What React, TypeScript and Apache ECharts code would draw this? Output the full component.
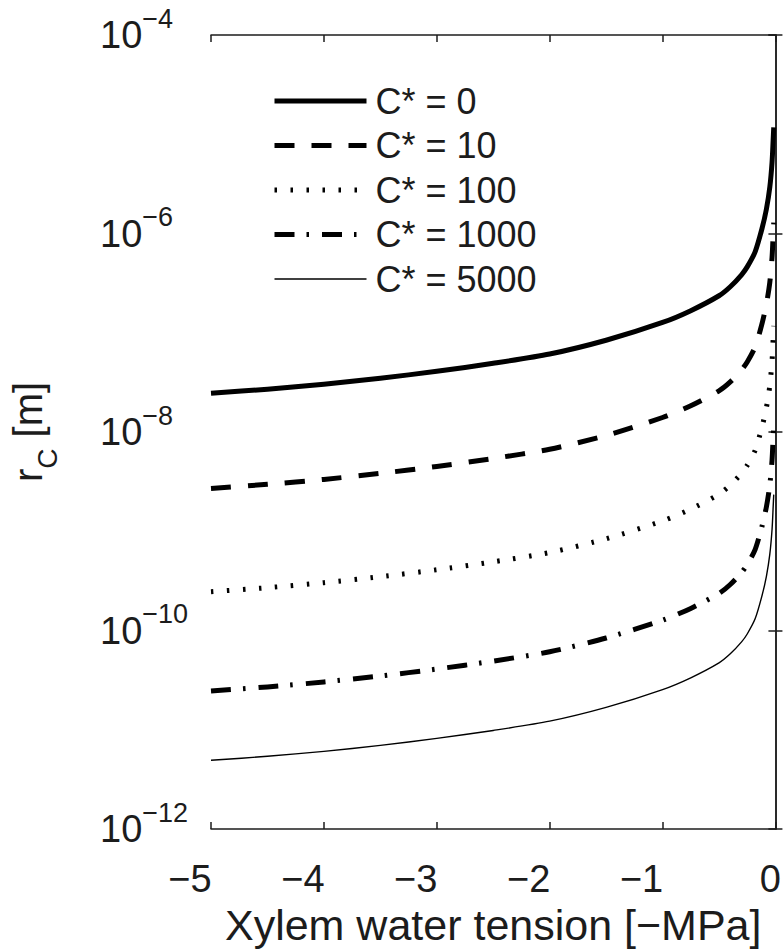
import React, { useEffect, useRef } from 'react';
import * as echarts from 'echarts';

// Xylem water tension [-MPa]
const X_TENSION = [-5, -4.5, -4, -3.5, -3, -2.5, -2, -1.5, -1, -0.75, -0.5, -0.4, -0.3, -0.25, -0.18, -0.12, -0.08, -0.05, -0.03, -0.02, -0.015];

// r_C [m] for each C*
const RC_C0 = [2.46e-8, 2.7e-8, 3.03e-8, 3.48e-8, 4.09e-8, 4.92e-8, 6.1e-8, 8.4e-8, 1.27e-7, 1.67e-7, 2.36e-7, 2.91e-7, 3.84e-7, 4.61e-7, 6.53e-7, 1.11e-6, 1.76e-6, 2.92e-6, 5.21e-6, 8.85e-6, 1.17e-5];
const RC_C10 = [2.7e-9, 2.97e-9, 3.33e-9, 3.83e-9, 4.5e-9, 5.41e-9, 6.71e-9, 9.2e-9, 1.4e-8, 1.84e-8, 2.6e-8, 3.2e-8, 4.22e-8, 5.07e-8, 7.18e-8, 1.22e-7, 1.94e-7, 3.21e-7, 5.73e-7, 9.74e-7, 1.29e-6];
const RC_C100 = [2.46e-10, 2.7e-10, 3.03e-10, 3.48e-10, 4.09e-10, 4.92e-10, 6.1e-10, 8.4e-10, 1.27e-9, 1.67e-9, 2.36e-9, 2.91e-9, 3.84e-9, 4.61e-9, 6.53e-9, 1.11e-8, 1.76e-8, 2.92e-8, 5.21e-8, 8.85e-8, 1.17e-7];
const RC_C1000 = [2.46e-11, 2.7e-11, 3.03e-11, 3.48e-11, 4.09e-11, 4.92e-11, 6.1e-11, 8.4e-11, 1.27e-10, 1.67e-10, 2.36e-10, 2.91e-10, 3.84e-10, 4.61e-10, 6.53e-10, 1.11e-9, 1.76e-9, 2.92e-9, 5.21e-9, 8.85e-9, 1.17e-8];
const RC_C5000 = [4.92e-12, 5.4e-12, 6.06e-12, 6.96e-12, 8.18e-12, 9.84e-12, 1.22e-11, 1.68e-11, 2.54e-11, 3.34e-11, 4.72e-11, 5.82e-11, 7.68e-11, 9.22e-11, 1.31e-10, 2.22e-10, 3.52e-10, 5.84e-10, 1.04e-9, 1.77e-9, 2.34e-9];

const SERIES_NAMES = ['C* = 0', 'C* = 10', 'C* = 100', 'C* = 1000', 'C* = 5000'];
const SERIES_VALUES = [RC_C0, RC_C10, RC_C100, RC_C1000, RC_C5000];

const X_NAME = 'Xylem water tension [\u2212MPa]';

const FONT = '"Liberation Sans", Arial, Helvetica, sans-serif';
const INK = '#1c1c1c';

const LINE_STYLES: any[] = [
  { width: 5, type: 'solid' },
  { width: 5, type: [20, 17] },
  { width: 5, type: [2.5, 13.5] },
  { width: 5, type: [20, 12, 2.5, 13] },
  { width: 1.4, type: 'solid' },
];

export default function App() {
  const ref = useRef<HTMLDivElement>(null);
  useEffect(() => {
    const chart = echarts.init(ref.current as HTMLDivElement, null, { renderer: 'svg' });
    const axisLine = { show: true, lineStyle: { color: INK, width: 1.5 } };
    const tick = { show: true, inside: true, length: 7, lineStyle: { color: INK, width: 1.5 } };
    const option: any = {
      animation: false,
      backgroundColor: '#fff',
      textStyle: { fontFamily: FONT },
      grid: { left: 211, right: 7, top: 35, bottom: 118, containLabel: false },
      legend: {
        orient: 'vertical',
        left: 272,
        top: 83,
        padding: 0,
        itemWidth: 92,
        itemHeight: 14,
        itemGap: 8.5,
        itemStyle: { opacity: 0 },
        lineStyle: { width: 'inherit', type: 'inherit', color: 'inherit' },
        textStyle: { fontSize: 36, color: INK, fontFamily: FONT, padding: [0, 0, 0, 4] },
        data: SERIES_NAMES,
        selectedMode: false,
      },
      xAxis: [
        {
          type: 'value',
          position: 'bottom',
          min: -5,
          max: 0,
          interval: 1,
          axisLine,
          axisTick: tick,
          splitLine: { show: false },
          axisLabel: {
            color: INK,
            fontSize: 38,
            fontFamily: FONT,
            margin: 31,
            formatter: (v: number) => (v === 0 ? '{z|0}' : '{n|\u2212' + Math.abs(v) + '}'),
            rich: {
              n: { fontSize: 38, fontFamily: FONT, color: INK, padding: [0, 42, 0, 0] },
              z: { fontSize: 38, fontFamily: FONT, color: INK, padding: [0, 10, 0, 0] },
            },
          },
          name: X_NAME,
          nameLocation: 'middle',
          nameGap: 74,
          nameTextStyle: { color: INK, fontSize: 43, fontFamily: FONT },
        },
        {
          type: 'value',
          position: 'top',
          min: -5,
          max: 0,
          interval: 1,
          axisLine,
          axisTick: tick,
          splitLine: { show: false },
          axisLabel: { show: false },
        },
      ],
      yAxis: [
        {
          type: 'log',
          logBase: 10,
          position: 'left',
          min: 1e-12,
          max: 1e-4,
          interval: 2,
          axisLine,
          axisTick: tick,
          minorTick: { show: false },
          splitLine: { show: false },
          axisLabel: {
            align: 'left',
            margin: 111,
            formatter: (v: number) => '{b|10}{s|\u2212' + Math.round(-Math.log10(v)) + '}',
            rich: {
              b: { fontSize: 38, fontFamily: FONT, color: INK, lineHeight: 60, verticalAlign: 'middle' },
              s: { fontSize: 27, fontFamily: FONT, color: INK, lineHeight: 18, verticalAlign: 'top' },
            },
          },
          name: '{r|r}{c|C}{r| [m]}',
          nameLocation: 'middle',
          nameGap: 150,
          nameRotate: 90,
          nameTextStyle: {
            rich: {
              r: { fontSize: 40, fontFamily: FONT, color: INK, lineHeight: 66, verticalAlign: 'middle' },
              c: { fontSize: 28, fontFamily: FONT, color: INK, lineHeight: 20, verticalAlign: 'bottom' },
            },
          },
        },
        {
          type: 'log',
          logBase: 10,
          position: 'right',
          min: 1e-12,
          max: 1e-4,
          interval: 2,
          axisLine,
          axisTick: tick,
          minorTick: { show: false },
          splitLine: { show: false },
          axisLabel: { show: false },
        },
      ],
      series: SERIES_NAMES.map((name, i) => ({
        name,
        type: 'line',
        xAxisIndex: 0,
        yAxisIndex: 0,
        symbol: 'none',
        showSymbol: false,
        smooth: 0.25,
        clip: true,
        data: X_TENSION.map((x, k) => [x, SERIES_VALUES[i][k]]),
        lineStyle: { color: '#000', width: LINE_STYLES[i].width, type: LINE_STYLES[i].type, cap: 'butt', join: 'round' },
        itemStyle: { color: '#000' },
        emphasis: { disabled: true },
      })),
    };
    chart.setOption(option);
    return () => chart.dispose();
  }, []);
  return (
    <div
      ref={ref}
      style={{ position: 'fixed', left: 0, top: 0, width: 784, height: 951, background: '#fff' }}
    />
  );
}
